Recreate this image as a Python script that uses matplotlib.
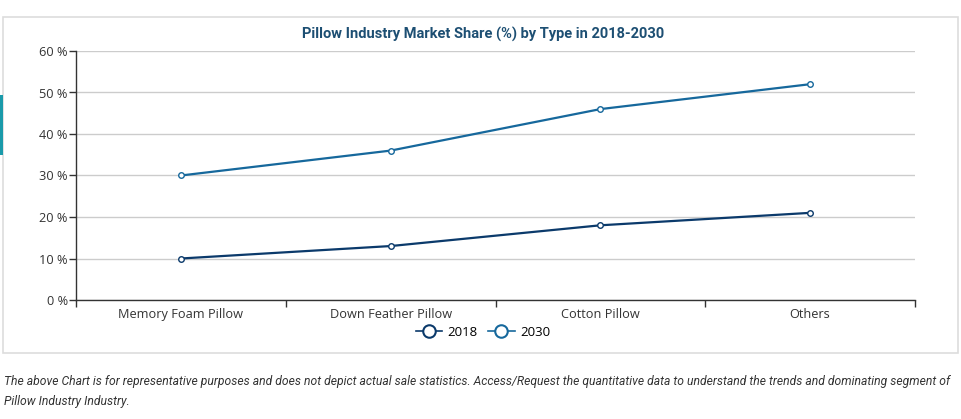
import matplotlib
matplotlib.use('Agg')
import matplotlib.pyplot as plt
from matplotlib.patches import Rectangle
from matplotlib.lines import Line2D

categories = ['Memory Foam Pillow', 'Down Feather Pillow', 'Cotton Pillow', 'Others']
share_2018 = [10, 13, 18, 21]
share_2030 = [30, 36, 46, 52]
y_ticks = [0, 10, 20, 30, 40, 50, 60]

W, H = 961, 419
fig = plt.figure(figsize=(W / 100, H / 100), dpi=100)

# card background with light border
card = Rectangle((3 / W, 1 - 353 / H), 955 / W, 336 / H, transform=fig.transFigure,
                 facecolor='white', edgecolor='#dddddd', linewidth=1.2, zorder=-2)
fig.patches.append(card)
accent = Rectangle((0, 1 - 155 / H), 3 / W, 60 / H, transform=fig.transFigure,
                   facecolor='#1a9aaa', edgecolor='none', zorder=-1)
fig.patches.append(accent)

ax = fig.add_axes([76 / W, 1 - 300 / H, (915 - 76) / W, (300 - 51) / H])
ax.set_facecolor('none')

x = [i + 0.5 for i in range(len(categories))]
c18 = '#0b3a6b'
c30 = '#16689c'
ax.plot(x, share_2018, color=c18, lw=1.6, marker='o', ms=4, mfc='white', mec=c18, mew=1, zorder=3)
ax.plot(x, share_2030, color=c30, lw=1.6, marker='o', ms=4, mfc='white', mec=c30, mew=1, zorder=3)

ax.set_xlim(0, len(categories))
ax.set_ylim(0, 60)
ax.set_yticks(y_ticks)
ax.set_yticklabels([f'{v} %' for v in y_ticks], fontsize=9.2, color='#333333', family='Open Sans')
ax.grid(axis='y', color='#cccccc', lw=1)
ax.set_axisbelow(True)

ax.set_xticks(x)
ax.set_xticklabels(categories, fontsize=9.2, color='#333333', family='Open Sans')
ax.set_xticks(range(len(categories) + 1), minor=True)
ax.tick_params(axis='x', which='major', length=0, pad=6)
ax.tick_params(axis='x', which='minor', length=5, color='#333333', width=1)
ax.tick_params(axis='y', length=5, color='#333333', width=1, pad=1)

for s in ['top', 'right']:
    ax.spines[s].set_visible(False)
for s in ['left', 'bottom']:
    ax.spines[s].set_color('#333333')
    ax.spines[s].set_linewidth(1)

fig.text(483 / W, 1 - 34 / H, 'Pillow Industry Market Share (%) by Type in 2018-2030',
         ha='center', va='center', fontsize=10.5, color='#1d4f73', family='Roboto', weight='bold')

handles = [Line2D([], [], color=c18, lw=1.2, marker='o', ms=9, mfc='white', mec=c18, mew=1.5),
           Line2D([], [], color=c30, lw=1.2, marker='o', ms=9, mfc='white', mec=c30, mew=1.5)]
fig.legend(handles, ['2018', '2030'], loc='center', bbox_to_anchor=(483 / W, 1 - 332 / H),
           ncol=2, frameon=False, handlelength=2, handletextpad=0.4,
           columnspacing=0.8, prop={'family': 'Open Sans', 'size': 9.5})

note = ('The above Chart is for representative purposes and does not depict actual sale statistics. '
        'Access/Request the quantitative data to understand the trends and dominating segment of')
fig.text(4 / W, 1 - 381 / H, note, ha='left', va='center', fontsize=8.7, style='italic',
         color='#333333', family='Roboto')
fig.text(4 / W, 1 - 401 / H, 'Pillow Industry Industry.', ha='left', va='center', fontsize=8.7,
         style='italic', color='#333333', family='Roboto')

fig.savefig('out.png', dpi=100)
